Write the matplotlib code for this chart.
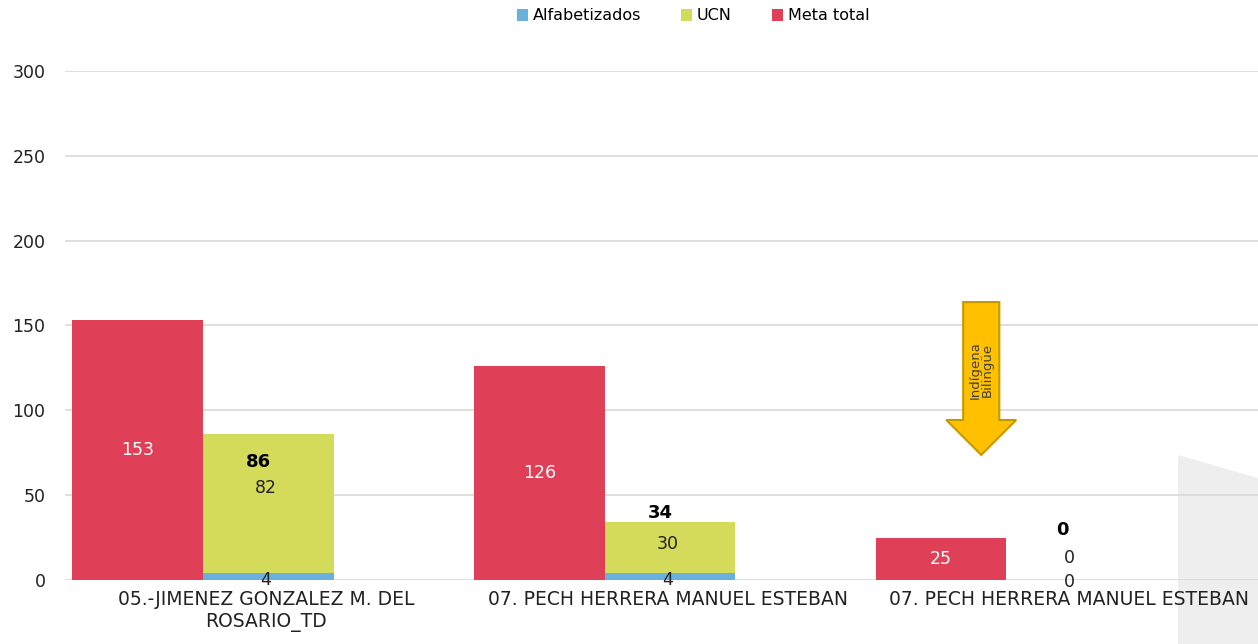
import numpy as np
import matplotlib.pyplot as plt
from matplotlib.patches import Polygon

# alfabetizacion por asesor
categorias = ["05.-JIMENEZ GONZALEZ M. DEL\nROSARIO_TD",
              "07. PECH HERRERA MANUEL ESTEBAN",
              "07. PECH HERRERA MANUEL ESTEBAN"]
alfabetizados = [4, 4, 0]
ucn = [82, 30, 0]
meta_total = [153, 126, 25]

c_alf = "#6AB0DE"
c_ucn = "#D4DB5A"
c_meta = "#E04057"

x = np.arange(len(categorias))
w = 0.325
dx = 0.006
total = [a + u for a, u in zip(alfabetizados, ucn)]

fig = plt.figure(figsize=(12.58, 6.44), dpi=100)
ax = fig.add_axes([0.0517, 0.0994, 0.9483, 0.7904])
ax.set_facecolor("none")

# gray tab on the right edge, behind the plot
px = [1178, 1258, 1258, 1178]
py = [455, 478, 644, 644]
tab = Polygon([(a / 1258, 1 - b / 644) for a, b in zip(px, py)], closed=True,
              transform=fig.transFigure, facecolor="#EEEEEE", edgecolor="none", zorder=-1)
fig.patches.append(tab)

ax.bar(x + dx - w, meta_total, w, color=c_meta, label="Meta total", zorder=2)
ax.bar(x + dx, alfabetizados, w, color=c_alf, label="Alfabetizados", zorder=2)
ax.bar(x + dx, ucn, w, bottom=alfabetizados, color=c_ucn, label="UCN", zorder=2)

# etiquetas
for i in range(len(x)):
    ax.text(x[i] + dx - w, meta_total[i] / 2, str(meta_total[i]), color="white",
            ha="center", va="center", fontsize=12.5, zorder=3)
ucn_y = [54, 21, 13]
tot_y = [69.5, 39.5, 29.5]
alf_y = [0, 0, -1]
for i in range(len(x)):
    ax.text(x[i], ucn_y[i], str(ucn[i]), color="#222222", ha="center", va="center",
            fontsize=12.5, zorder=3)
    ax.text(x[i] - 0.018, tot_y[i], str(total[i]), color="black", ha="center", va="center",
            fontsize=13, fontweight="bold", zorder=3)
    ax.text(x[i], alf_y[i], str(alfabetizados[i]), color="#222222", ha="center",
            va="center", fontsize=12.5, zorder=3)

# flecha indigena bilingue
ax_pts = [(1.736, 163.8), (1.826, 163.8), (1.826, 94.3), (1.868, 94.3),
          (1.781, 73.7), (1.694, 94.3), (1.736, 94.3)]
ax.add_patch(Polygon(ax_pts, closed=True, facecolor="#FFC000", edgecolor="#C49A00",
                     linewidth=1.5, zorder=4))
ax.text(1.781, 124, "Indígena\nBilingüe", rotation=90, ha="center", va="center",
        fontsize=9.5, color="#404040", linespacing=0.95, zorder=5)

ax.set_xlim(-0.5, 2.47)
ax.set_ylim(0, 300)
ax.set_yticks(range(0, 301, 50))
ax.set_xticks(x)
ax.set_xticklabels(categorias, fontsize=13.5)
ax.tick_params(axis="y", labelsize=12.5, length=0, pad=14, colors="#222222")
ax.tick_params(axis="x", length=0, pad=7, colors="#222222")
ax.grid(axis="y", color="#D9D9D9", linewidth=1.2, zorder=0)
ax.set_axisbelow(True)
for s in ax.spines.values():
    s.set_visible(False)

h, l = ax.get_legend_handles_labels()
order = [1, 2, 0]
fig.legend([h[i] for i in order], [l[i] for i in order], loc="center",
           bbox_to_anchor=(0.551, 1 - 16 / 644), ncol=3, frameon=False, fontsize=11.5,
           handlelength=0.7, handleheight=0.7, columnspacing=2.5, handletextpad=0.3)

fig.savefig("out.png", dpi=100)
